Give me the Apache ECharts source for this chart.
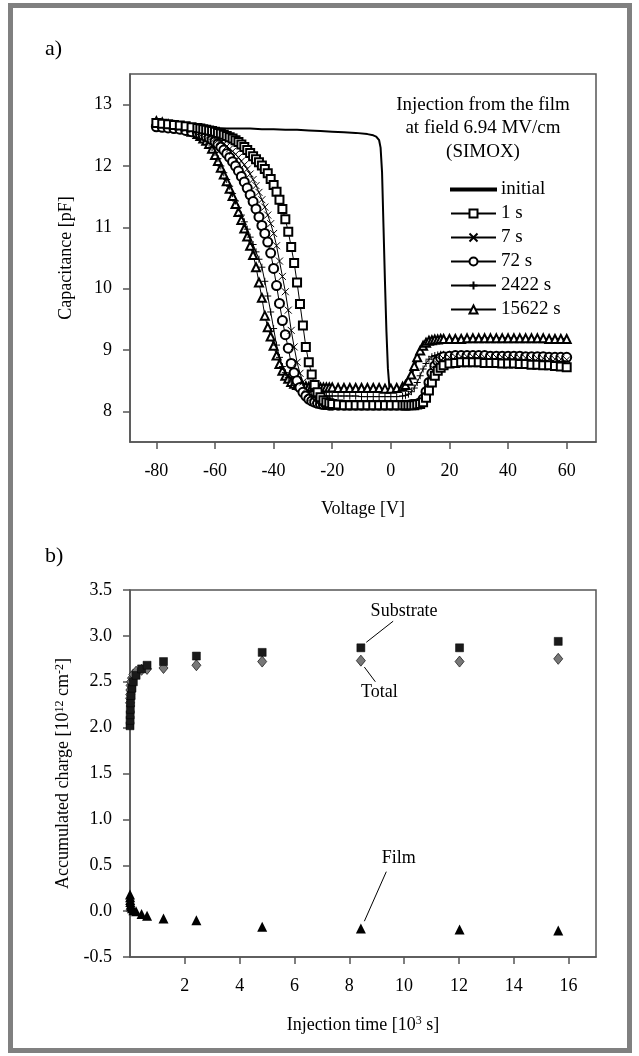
<!DOCTYPE html>
<html>
<head>
<meta charset="utf-8">
<title>SIMOX charge injection</title>
<script src="https://cdn.jsdelivr.net/npm/echarts@6/dist/echarts.min.js"></script>
<style>html,body{margin:0;padding:0;background:#fff;}</style>
</head>
<body>
<div id="main" style="width:639px;height:1056px;"></div>
<script type="text/javascript">
// ---- a) C-V curves ----
var voltage = [-80,-78,-76,-74,-72,-70,-68,-66,
  -65,-64,-63,-62,-61,-60,-59,-58,-57,-56,-55,-54,-53,-52,-51,-50,-49,-48,-47,-46,-45,-44,-43,-42,-41,-40,
  -39,-38,-37,-36,-35,-34,-33,-32,-31,-30,-29,-28,-27,-26,-25,-24,-23,-22,-21,-20,
  -18,-16,-14,-12,-10,-8,-6,-4,-2,0,2,4,
  5,6,7,8,9,10,11,12,13,14,15,16,17,18,
  20,22,24,26,28,30,32,34,36,38,40,42,44,46,48,50,52,54,56,58,60];

var cap1s = [12.70,12.69,12.68,12.67,12.66,12.65,12.63,12.62,
  12.61,12.60,12.59,12.58,12.57,12.56,12.54,12.53,12.51,12.49,12.47,12.45,12.42,12.39,12.35,12.31,12.26,12.21,12.16,12.11,12.06,12.01,11.95,11.88,11.79,11.69,
  11.58,11.45,11.30,11.13,10.93,10.68,10.42,10.10,9.75,9.40,9.05,8.80,8.60,8.43,8.31,8.23,8.18,8.15,8.13,8.12,
  8.11,8.10,8.10,8.10,8.10,8.10,8.10,8.10,8.10,8.10,8.10,8.10,
  8.10,8.10,8.10,8.10,8.11,8.12,8.15,8.22,8.34,8.47,8.58,8.66,8.71,8.75,
  8.78,8.79,8.80,8.80,8.80,8.80,8.79,8.79,8.79,8.78,8.78,8.78,8.77,8.77,8.76,8.76,8.75,8.75,8.74,8.73,8.72];

var cap7s = [12.68,12.67,12.66,12.64,12.63,12.61,12.59,12.57,
  12.56,12.54,12.52,12.50,12.48,12.45,12.42,12.39,12.36,12.32,12.28,12.24,12.19,12.14,12.08,12.02,11.95,11.87,11.78,11.68,11.57,11.45,11.33,11.20,11.06,10.90,
  10.70,10.45,10.20,9.95,9.65,9.32,9.05,8.80,8.62,8.48,8.37,8.28,8.22,8.17,8.14,8.12,8.11,8.10,8.10,8.10,
  8.10,8.10,8.09,8.09,8.09,8.09,8.09,8.09,8.09,8.09,8.09,8.09,
  8.09,8.09,8.10,8.10,8.11,8.12,8.16,8.26,8.40,8.55,8.68,8.77,8.83,8.86,
  8.88,8.89,8.89,8.89,8.89,8.89,8.88,8.88,8.88,8.88,8.87,8.87,8.87,8.87,8.86,8.86,8.86,8.85,8.85,8.85,8.84];

var cap72s = [12.64,12.63,12.62,12.61,12.60,12.58,12.56,12.54,
  12.52,12.50,12.48,12.46,12.43,12.40,12.36,12.31,12.26,12.20,12.14,12.07,12.00,11.92,11.83,11.74,11.64,11.53,11.42,11.30,11.17,11.03,10.90,10.76,10.58,10.33,
  10.05,9.76,9.48,9.25,9.03,8.78,8.63,8.50,8.39,8.31,8.25,8.20,8.17,8.15,8.13,8.12,8.11,8.11,8.10,8.10,
  8.10,8.10,8.10,8.10,8.10,8.10,8.10,8.10,8.10,8.10,8.10,8.10,
  8.10,8.10,8.11,8.11,8.12,8.14,8.20,8.32,8.47,8.62,8.74,8.82,8.87,8.89,
  8.90,8.91,8.91,8.91,8.91,8.91,8.91,8.90,8.90,8.90,8.90,8.90,8.90,8.89,8.89,8.89,8.89,8.88,8.88,8.88,8.88];

var cap2422s = [12.71,12.69,12.67,12.65,12.62,12.59,12.56,12.52,
  12.50,12.46,12.42,12.37,12.30,12.22,12.12,12.00,11.89,11.78,11.67,11.55,11.43,11.32,11.20,11.09,10.97,10.84,10.72,10.60,10.48,10.35,10.12,9.88,9.62,9.35,
  9.08,8.88,8.73,8.63,8.55,8.48,8.42,8.37,8.33,8.30,8.28,8.27,8.26,8.26,8.25,8.25,8.25,8.25,8.25,8.25,
  8.25,8.25,8.25,8.25,8.24,8.24,8.24,8.24,8.24,8.24,8.24,8.25,
  8.26,8.28,8.32,8.38,8.47,8.58,8.69,8.78,8.85,8.89,8.91,8.92,8.93,8.93,
  8.93,8.93,8.93,8.93,8.92,8.92,8.92,8.92,8.91,8.91,8.91,8.91,8.90,8.90,8.90,8.90,8.89,8.89,8.89,8.88,8.88];

var cap15622s = [12.73,12.71,12.68,12.66,12.63,12.60,12.56,12.52,
  12.49,12.45,12.41,12.36,12.28,12.18,12.08,11.97,11.86,11.75,11.63,11.51,11.38,11.25,11.12,10.98,10.85,10.70,10.55,10.35,10.10,9.85,9.56,9.37,9.22,9.07,
  8.91,8.77,8.66,8.58,8.53,8.48,8.45,8.43,8.42,8.41,8.41,8.40,8.40,8.40,8.40,8.39,8.39,8.39,8.39,8.39,
  8.38,8.38,8.38,8.38,8.38,8.38,8.38,8.38,8.37,8.37,8.38,8.40,
  8.43,8.50,8.60,8.74,8.88,8.99,9.07,9.12,9.15,9.16,9.17,9.17,9.18,9.18,
  9.18,9.18,9.18,9.19,9.19,9.19,9.19,9.19,9.19,9.19,9.19,9.19,9.19,9.19,9.19,9.19,9.19,9.18,9.18,9.18,9.18];

var initialV = [-80,-76,-72,-68,-64,-60,-56,-52,-48,-44,-40,-36,-32,-28,-24,-20,-16,-12,-8,-6,-5,-4,-3.5,-3,-2.5,-2,-1.5,-1,-0.5,0,2,4,5,6,7,8,9,10,11,12,13,14,16,20,30,40,50,60];
var initialC = [12.66,12.64,12.63,12.62,12.62,12.62,12.61,12.61,12.61,12.60,12.60,12.59,12.59,12.58,12.57,12.56,12.55,12.54,12.52,12.50,12.48,12.42,12.30,11.90,11.00,10.10,9.30,8.70,8.40,8.36,8.36,8.37,8.40,8.47,8.58,8.72,8.86,8.98,9.07,9.12,9.15,9.16,9.17,9.18,9.19,9.19,9.18,9.18];

var cvTicksX = [-80,-60,-40,-20,0,20,40,60];
var cvTicksY = [8,9,10,11,12,13];

// ---- b) accumulated charge vs injection time ----
var injTime   = [0.001,0.004,0.007,0.012,0.022,0.042,0.072,0.122,0.222,0.422,0.622,1.222,2.422,4.822,8.422,12.022,15.622];
var substrate = [2.02,2.08,2.14,2.20,2.27,2.35,2.43,2.50,2.57,2.64,2.68,2.72,2.78,2.82,2.87,2.87,2.94];
var total     = [2.27,2.32,2.36,2.41,2.46,2.50,2.54,2.58,2.61,2.63,2.64,2.65,2.68,2.72,2.73,2.72,2.75];
var film      = [0.18,0.15,0.12,0.10,0.07,0.05,0.03,0.01,0.00,-0.03,-0.05,-0.08,-0.10,-0.17,-0.19,-0.20,-0.21];

var qTicksX = [2,4,6,8,10,12,14,16];

var FONT = 'Liberation Serif';
var AX = '#555';

function pairs(xs, ys) {
  return xs.map(function (x, i) { return [x, ys[i]]; });
}

var myChart = echarts.init(document.getElementById('main'));

var lineBase = {
  type: 'line',
  xAxisIndex: 0,
  yAxisIndex: 0,
  animation: false,
  lineStyle: { color: '#000', width: 1 },
  symbolSize: 7,
  itemStyle: { color: '#000', borderColor: '#000', borderWidth: 1 },
  z: 3
};

function cv(name, ys, symbol, size) {
  return Object.assign({}, lineBase, {
    name: name,
    data: pairs(voltage, ys),
    symbol: symbol,
    symbolSize: size
  });
}

var supStyle = { fontFamily: FONT, fontSize: 12, color: '#000', verticalAlign: 'top', padding: [0, 0, 8, 0] };

var option = {
  backgroundColor: '#fff',
  animation: false,
  textStyle: { fontFamily: FONT, color: '#000' },
  grid: [
    { left: 130, right: 43, top: 74, bottom: 614, show: true, borderColor: AX, borderWidth: 1.5 },
    { left: 130, right: 43, top: 590, bottom: 99, show: true, borderColor: AX, borderWidth: 1.5 }
  ],
  legend: {
    data: [
      { name: 'initial', icon: 'path://M0,0H45V2H0Z' },
      '1 s', '7 s', '72 s', '2422 s', '15622 s'
    ],
    orient: 'vertical',
    left: 445,
    top: 175,
    height: 200,
    itemWidth: 45,
    itemHeight: 10,
    itemGap: 5,
    textStyle: { fontFamily: FONT, fontSize: 19, color: '#000' }
  },
  xAxis: [{
    gridIndex: 0, type: 'value', min: -89, max: 70,
    name: 'Voltage [V]', nameLocation: 'middle', nameGap: 58,
    nameTextStyle: { fontFamily: FONT, fontSize: 18, color: '#000' },
    axisLine: { onZero: false, lineStyle: { color: AX, width: 1.5 } },
    axisTick: { show: true, inside: false, length: 7, lineStyle: { color: AX, width: 1.5 }, customValues: cvTicksX },
    axisLabel: { fontFamily: FONT, fontSize: 18, color: '#000', margin: 20, customValues: cvTicksX },
    splitLine: { show: false }
  }, {
    gridIndex: 1, type: 'value', min: 0, max: 17,
    name: 'Injection time [10{sup|3} s]', nameLocation: 'middle', nameGap: 58,
    nameTextStyle: { fontFamily: FONT, fontSize: 18, color: '#000', rich: { sup: supStyle } },
    axisLine: { onZero: false, lineStyle: { color: AX, width: 1.5 } },
    axisTick: { show: true, inside: false, length: 7, lineStyle: { color: AX, width: 1.5 }, customValues: qTicksX },
    axisLabel: { fontFamily: FONT, fontSize: 18, color: '#000', margin: 20, customValues: qTicksX },
    splitLine: { show: false }
  }],
  yAxis: [{
    gridIndex: 0, type: 'value', min: 7.5, max: 13.5,
    name: 'Capacitance [pF]', nameLocation: 'middle', nameGap: 55,
    nameTextStyle: { fontFamily: FONT, fontSize: 18, color: '#000' },
    axisLine: { onZero: false, lineStyle: { color: AX, width: 1.5 } },
    axisTick: { show: true, inside: false, length: 7, lineStyle: { color: AX, width: 1.5 }, customValues: cvTicksY },
    axisLabel: { fontFamily: FONT, fontSize: 18, color: '#000', margin: 18, customValues: cvTicksY },
    splitLine: { show: false }
  }, {
    gridIndex: 1, type: 'value', min: -0.5, max: 3.5, interval: 0.5,
    name: 'Accumulated charge [10{sup|12} cm{sup|-2}]', nameLocation: 'middle', nameGap: 55,
    nameTextStyle: { fontFamily: FONT, fontSize: 18, color: '#000', rich: { sup: supStyle } },
    axisLine: { onZero: false, lineStyle: { color: AX, width: 1.5 } },
    axisTick: { show: true, inside: false, length: 7, lineStyle: { color: AX, width: 1.5 } },
    axisLabel: { fontFamily: FONT, fontSize: 18, color: '#000', margin: 18,
      formatter: function (v) { return v.toFixed(1); } },
    splitLine: { show: false }
  }],
  series: [
    Object.assign({}, lineBase, {
      name: 'initial', data: pairs(initialV, initialC), symbol: 'none', showSymbol: false,
      lineStyle: { color: '#000', width: 2 }
    }),
    cv('15622 s', cap15622s, 'emptyTriangle', 8),
    cv('2422 s', cap2422s, 'path://M5,0L5,10M0,5L10,5', 7),
    cv('72 s', cap72s, 'emptyCircle', 9),
    cv('7 s', cap7s, 'path://M0,0L10,10M10,0L0,10', 7),
    cv('1 s', cap1s, 'emptyRect', 8),
    {
      name: 'Substrate', type: 'scatter', xAxisIndex: 1, yAxisIndex: 1,
      data: pairs(injTime, substrate), symbol: 'rect', symbolSize: 8,
      itemStyle: { color: '#1a1a1a', borderColor: '#000', borderWidth: 0.5, opacity: 1 },
      markLine: {
        silent: true, symbol: ['none', 'arrow'], symbolSize: [0, 7],
        lineStyle: { color: '#000', width: 1, type: 'solid' },
        label: { show: false },
        data: [
          [{ coord: [9.6, 3.16] }, { coord: [8.62, 2.93] }],
          [{ coord: [8.95, 2.50] }, { coord: [8.55, 2.66] }],
          [{ coord: [9.35, 0.43] }, { coord: [8.55, -0.11] }]
        ]
      },
      markPoint: {
        silent: true, symbol: 'circle', symbolSize: 0,
        label: { show: true, position: 'inside', fontFamily: FONT, fontSize: 18, color: '#000',
          formatter: function (p) { return p.name; } },
        data: [
          { name: 'Substrate', coord: [10.0, 3.27] },
          { name: 'Total', coord: [9.1, 2.38] },
          { name: 'Film', coord: [9.8, 0.58] }
        ]
      },
      z: 4
    },
    {
      name: 'Total', type: 'scatter', xAxisIndex: 1, yAxisIndex: 1,
      data: pairs(injTime, total), symbol: 'diamond', symbolSize: [9, 11],
      itemStyle: { color: '#777', borderColor: '#222', borderWidth: 0.8, opacity: 1 },
      z: 3
    },
    {
      name: 'Film', type: 'scatter', xAxisIndex: 1, yAxisIndex: 1,
      data: pairs(injTime, film), symbol: 'triangle', symbolSize: 10,
      itemStyle: { color: '#000', opacity: 1 },
      z: 3
    }
  ],
  graphic: [
    { type: 'rect', shape: { x: 10.5, y: 5.5, width: 619, height: 1045 },
      style: { fill: 'none', stroke: '#808080', lineWidth: 5 }, z: 10 },
    { type: 'text', left: 45, top: 38, style: { text: 'a)', font: '22px "Liberation Serif"', fill: '#000' } },
    { type: 'text', left: 45, top: 545, style: { text: 'b)', font: '22px "Liberation Serif"', fill: '#000' } },
    { type: 'text', x: 483, y: 105, style: { text: 'Injection from the film', font: '19px "Liberation Serif"', fill: '#000', textAlign: 'center', textVerticalAlign: 'middle' } },
    { type: 'text', x: 483, y: 128, style: { text: 'at field 6.94 MV/cm', font: '19px "Liberation Serif"', fill: '#000', textAlign: 'center', textVerticalAlign: 'middle' } },
    { type: 'text', x: 483, y: 152, style: { text: '(SIMOX)', font: '19px "Liberation Serif"', fill: '#000', textAlign: 'center', textVerticalAlign: 'middle' } }
  ]
};

myChart.setOption(option);
</script>
</body>
</html>
